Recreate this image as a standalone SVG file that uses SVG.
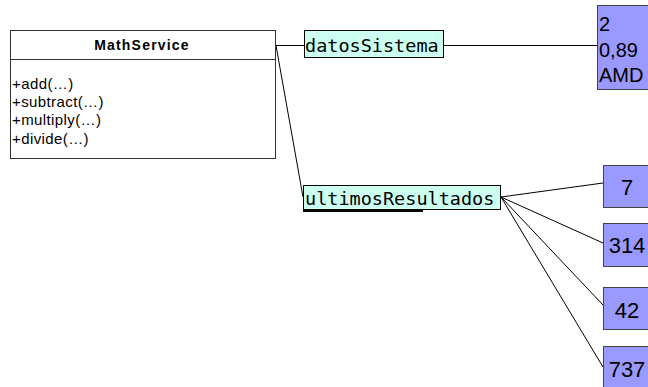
<svg xmlns="http://www.w3.org/2000/svg" width="648" height="387" viewBox="0 0 648 387">
  <style>
    .cls { fill: #ffffff; stroke: #333333; stroke-width: 1; }
    .attr { fill: #ccfff0; stroke: #000000; stroke-width: 1; }
    .val { fill: #9999ff; stroke: #444444; stroke-width: 1; }
    .mono { font-family: "DejaVu Sans Mono", monospace; font-size: 18.5px; fill: #000; }
    .sans { font-family: "Liberation Sans", Arial, sans-serif; fill: #000; }
    .title { font-size: 14px; font-weight: bold; letter-spacing: 1.2px; }
    .op { font-size: 15px; letter-spacing: 0.4px; }
    .num { font-size: 22px; }
    .conn line { stroke: #000000; stroke-width: 1; }
  </style>

  <!-- connectors -->
  <g id="connectors" class="conn">
    <line x1="276" y1="45.5" x2="304" y2="45.5"/>
    <line x1="276" y1="45.5" x2="303" y2="197"/>
    <line x1="444" y1="45.5" x2="597" y2="45.5"/>
    <line x1="501" y1="197" x2="603" y2="183"/>
    <line x1="501" y1="197" x2="603" y2="243"/>
    <line x1="501" y1="197" x2="603" y2="305"/>
    <line x1="501" y1="197" x2="603" y2="367"/>
  </g>

  <!-- class MathService -->
  <g id="MathService">
    <rect class="cls" x="10.5" y="30.5" width="265" height="128"/>
    <line x1="10.5" y1="59.5" x2="275.5" y2="59.5" stroke="#333333"/>
    <text class="sans title" x="142" y="50" text-anchor="middle">MathService</text>
    <text class="sans op" x="12" y="89">+add(…)</text>
    <text class="sans op" x="12" y="107">+subtract(…)</text>
    <text class="sans op" x="12" y="125">+multiply(…)</text>
    <text class="sans op" x="12" y="143.5">+divide(…)</text>
  </g>

  <!-- attribute datosSistema -->
  <g id="datosSistema">
    <rect class="attr" x="304.5" y="30.5" width="139" height="27"/>
    <text class="mono" x="305" y="51.5">datosSistema</text>
  </g>

  <!-- attribute ultimosResultados -->
  <g id="ultimosResultados">
    <rect class="attr" x="303.5" y="185.5" width="197" height="24"/>
    <line x1="303" y1="211" x2="423" y2="211" stroke="#000" stroke-width="2"/>
    <text class="mono" x="305" y="205">ultimosResultados</text>
  </g>

  <!-- values of datosSistema -->
  <g id="valSistema">
    <rect class="val" x="597.5" y="5.5" width="60" height="84"/>
    <text class="sans" font-size="20" x="599" y="31">2</text>
    <text class="sans" font-size="20" x="599" y="56.5">0,89</text>
    <text class="sans" font-size="20" x="599" y="82">AMD</text>
  </g>

  <!-- values of ultimosResultados -->
  <g id="val7">
    <rect class="val" x="603.5" y="165.5" width="48" height="42"/>
    <text class="sans num" x="627" y="195" text-anchor="middle">7</text>
  </g>
  <g id="val314">
    <rect class="val" x="603.5" y="223.5" width="48" height="43"/>
    <text class="sans num" x="627" y="253" text-anchor="middle">314</text>
  </g>
  <g id="val42">
    <rect class="val" x="603.5" y="287.5" width="48" height="42"/>
    <text class="sans num" x="627" y="318" text-anchor="middle">42</text>
  </g>
  <g id="val737">
    <rect class="val" x="603.5" y="346.5" width="48" height="45"/>
    <text class="sans num" x="627" y="377" text-anchor="middle">737</text>
  </g>
</svg>
